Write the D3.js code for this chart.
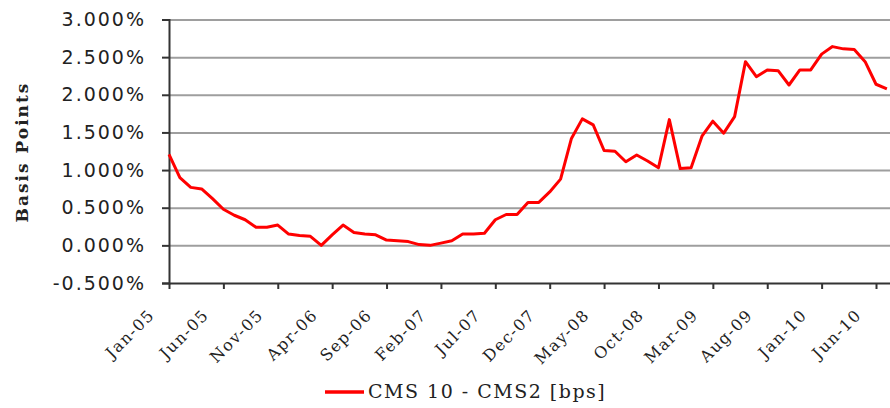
<!DOCTYPE html>
<html>
<head>
<meta charset="utf-8">
<script src="https://cdn.jsdelivr.net/npm/d3@7"></script>
<style>
  body { margin: 0; background: #fff; }
  svg { display: block; }
</style>
</head>
<body>
<div id="chart"></div>
<script>
// monthly CMS10 - CMS2 spread, Jan-05 .. Jul-10
const months = ["Jan-05","Feb-05","Mar-05","Apr-05","May-05","Jun-05","Jul-05","Aug-05","Sep-05","Oct-05","Nov-05","Dec-05",
  "Jan-06","Feb-06","Mar-06","Apr-06","May-06","Jun-06","Jul-06","Aug-06","Sep-06","Oct-06","Nov-06","Dec-06",
  "Jan-07","Feb-07","Mar-07","Apr-07","May-07","Jun-07","Jul-07","Aug-07","Sep-07","Oct-07","Nov-07","Dec-07",
  "Jan-08","Feb-08","Mar-08","Apr-08","May-08","Jun-08","Jul-08","Aug-08","Sep-08","Oct-08","Nov-08","Dec-08",
  "Jan-09","Feb-09","Mar-09","Apr-09","May-09","Jun-09","Jul-09","Aug-09","Sep-09","Oct-09","Nov-09","Dec-09",
  "Jan-10","Feb-10","Mar-10","Apr-10","May-10","Jun-10","Jul-10"];

const spread = [1.21,0.90,0.77,0.75,0.62,0.48,0.40,0.34,0.24,0.24,0.27,0.15,
  0.13,0.12,0.00,0.14,0.27,0.17,0.15,0.14,0.07,0.06,0.05,0.01,
  0.00,0.03,0.06,0.15,0.15,0.16,0.34,0.41,0.41,0.57,0.57,0.71,
  0.88,1.42,1.68,1.60,1.26,1.25,1.11,1.20,1.12,1.03,1.67,1.02,
  1.03,1.45,1.65,1.49,1.71,2.44,2.24,2.33,2.32,2.13,2.33,2.33,
  2.54,2.64,2.61,2.60,2.44,2.14,2.08];

const yTicks = [-0.5, 0, 0.5, 1, 1.5, 2, 2.5, 3];
const xTicks = ["Jan-05","Jun-05","Nov-05","Apr-06","Sep-06","Feb-07","Jul-07","Dec-07",
  "May-08","Oct-08","Mar-09","Aug-09","Jan-10","Jun-10"];

const seriesName = "CMS 10 - CMS2 [bps]";
const yTitle = "Basis Points";

const width = 890, height = 408;
const margin = {top: 20, left: 169};

const svg = d3.select("#chart").append("svg")
    .attr("width", width)
    .attr("height", height);

const x = d3.scalePoint()
    .domain(months)
    .range([margin.left, margin.left + 10.877 * (months.length - 1)]);

const y = d3.scaleLinear()
    .domain([-0.5, 3])
    .range([283, 19.5]);

// gridlines
svg.append("g")
    .attr("transform", `translate(${margin.left},0)`)
    .call(d3.axisLeft(y).tickValues(yTicks.filter(d => d > -0.5)).tickSize(-(width - margin.left)).tickFormat(""))
    .call(g => g.select(".domain").remove())
    .call(g => g.selectAll(".tick line").attr("stroke", "#9e9e9e").attr("stroke-width", 2));

// y axis
svg.append("g")
    .attr("transform", `translate(${margin.left},0)`)
    .call(d3.axisLeft(y).tickValues(yTicks).tickSize(7).tickPadding(16)
        .tickFormat(d => d.toFixed(3) + "%"))
    .call(g => g.select(".domain").attr("stroke", "#333").attr("stroke-width", 2))
    .call(g => g.selectAll(".tick line").attr("stroke", "#333").attr("stroke-width", 2))
    .call(g => g.selectAll("text")
        .attr("fill", "#222")
        .style("font-family", "'DejaVu Sans', Verdana, sans-serif")
        .style("font-size", "19px")
        .style("letter-spacing", "2px"));

// x axis
svg.append("g")
    .attr("transform", `translate(0,${y(-0.5)})`)
    .call(d3.axisBottom(x).tickValues(xTicks).tickSize(6).tickSizeOuter(0))
    .call(g => g.select(".domain")
        .attr("d", `M${margin.left},0.5H${width}`)
        .attr("stroke", "#333").attr("stroke-width", 2))
    .call(g => g.selectAll(".tick line").attr("stroke", "#333").attr("stroke-width", 2))
    .call(g => g.selectAll("text")
        .attr("x", 0).attr("y", 0).attr("dy", 0)
        .attr("text-anchor", "end")
        .attr("transform", "translate(-14,33) rotate(-45)")
        .attr("fill", "#222")
        .style("font-family", "'DejaVu Serif', 'Liberation Serif', serif")
        .style("font-size", "16px")
        .style("letter-spacing", "1.5px"));

// axis title
svg.append("text")
    .attr("transform", "translate(28,152) rotate(-90)")
    .attr("text-anchor", "middle")
    .attr("fill", "#222")
    .style("font-family", "'DejaVu Serif', 'Liberation Serif', serif")
    .style("font-weight", "bold")
    .style("font-size", "17px")
    .style("letter-spacing", "2px")
    .text(yTitle);

// series line
const line = d3.line()
    .x((d, i) => x(months[i]))
    .y(d => y(d));

svg.append("path")
    .datum(spread)
    .attr("fill", "none")
    .attr("stroke", "#ff0000")
    .attr("stroke-width", 3)
    .attr("stroke-linejoin", "round")
    .attr("d", line);

// legend
const legend = svg.append("g").attr("transform", "translate(325,392)");
legend.append("line")
    .attr("x1", 0).attr("x2", 39)
    .attr("stroke", "#ff0000")
    .attr("stroke-width", 3.5);
legend.append("text")
    .attr("x", 43).attr("y", 6)
    .attr("fill", "#222")
    .style("font-family", "'DejaVu Serif', 'Liberation Serif', serif")
    .style("font-size", "19px")
    .style("letter-spacing", "1.5px")
    .text(seriesName);
</script>
</body>
</html>
